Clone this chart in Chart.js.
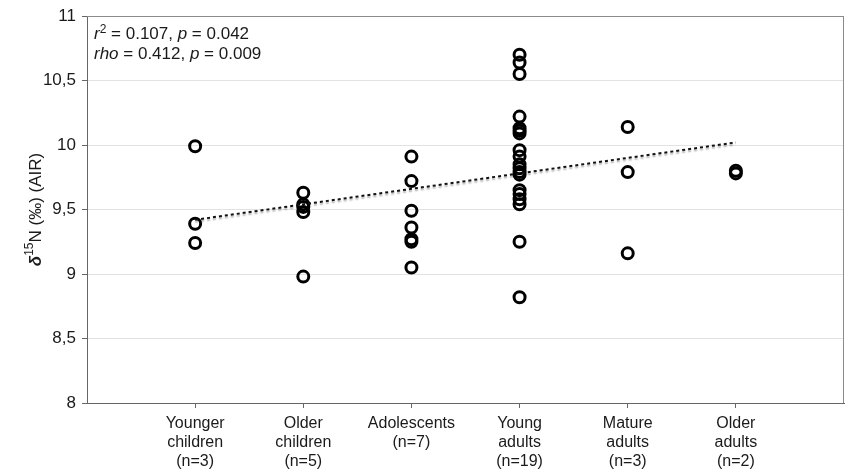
<!DOCTYPE html>
<html>
<head>
<meta charset="utf-8">
<script src="https://cdn.jsdelivr.net/npm/chart.js@4.4.1/dist/chart.umd.min.js"></script>
<style>
  html, body { margin: 0; padding: 0; background: #fff; }
  #wrap { width: 847px; height: 473px; position: relative; }
</style>
</head>
<body>
<div id="wrap"><canvas id="c" width="847" height="473"></canvas></div>
<script>
// Age groups shown along the x axis (multi-line labels)
const categories = [
  ['Younger', 'children', '(n=3)'],
  ['Older', 'children', '(n=5)'],
  ['Adolescents', '(n=7)'],
  ['Young', 'adults', '(n=19)'],
  ['Mature', 'adults', '(n=3)'],
  ['Older', 'adults', '(n=2)']
];

// δ15N values per individual, by age group
const youngerChildren = [9.99, 9.39, 9.24];
const olderChildren = [9.63, 9.54, 9.52, 9.48, 8.98];
const adolescents = [9.91, 9.72, 9.49, 9.36, 9.27, 9.25, 9.05];
const youngAdults = [10.70, 10.64, 10.55, 10.22, 10.13, 10.11, 10.09, 9.96, 9.91, 9.85,
                     9.82, 9.79, 9.77, 9.65, 9.62, 9.58, 9.54, 9.25, 8.82];
const matureAdults = [10.14, 9.79, 9.16];
const olderAdults = [9.80, 9.78];

// Linear trend endpoints (first and last group)
const trendX = [1, 6];
const trendY = [9.42, 10.02];

// y-axis ticks
const yTicks = [8, 8.5, 9, 9.5, 10, 10.5, 11];

const groups = [youngerChildren, olderChildren, adolescents, youngAdults, matureAdults, olderAdults];
const scatterPoints = [];
groups.forEach((vals, i) => vals.forEach(v => scatterPoints.push({ x: i + 1, y: v })));

const FONT = '"Liberation Sans", Arial, Helvetica, sans-serif';
const TEXT = '#1a1a1a';

// Draws a run of text segments with italic / bold / superscript styling
function drawRich(ctx, segs, x, y, size) {
  let cx = x;
  segs.forEach(s => {
    const sz = s.sup ? Math.round(size * 0.68) : size;
    ctx.font = (s.i ? 'italic ' : '') + (s.b ? 'bold ' : '') + sz + 'px ' + FONT;
    ctx.fillText(s.t, cx, s.sup ? y - size * 0.36 : y);
    cx += ctx.measureText(s.t).width;
  });
  return cx - x;
}
function measureRich(ctx, segs, size) {
  let w = 0;
  segs.forEach(s => {
    const sz = s.sup ? Math.round(size * 0.68) : size;
    ctx.font = (s.i ? 'italic ' : '') + (s.b ? 'bold ' : '') + sz + 'px ' + FONT;
    w += ctx.measureText(s.t).width;
  });
  return w;
}

const decorPlugin = {
  id: 'decor',
  beforeDatasetsDraw(chart) {
    const { ctx, chartArea: a } = chart;
    ctx.save();
    ctx.strokeStyle = '#8a8a8a';
    ctx.lineWidth = 1;
    ctx.beginPath();
    ctx.moveTo(a.left, a.top + 0.5);
    ctx.lineTo(a.right - 0.5, a.top + 0.5);
    ctx.lineTo(a.right - 0.5, a.bottom);
    ctx.stroke();
    ctx.restore();
  },
  beforeDatasetDraw(chart, args) {
    if (args.index === 0) {
      const ctx = chart.ctx;
      ctx.save();
      ctx.shadowColor = 'rgba(0,0,0,0.3)';
      ctx.shadowOffsetY = 2;
      ctx.shadowBlur = 1.5;
    }
  },
  afterDatasetDraw(chart, args) {
    if (args.index === 0) chart.ctx.restore();
  },
  afterDraw(chart) {
    const { ctx, chartArea: a } = chart;
    ctx.save();
    ctx.fillStyle = TEXT;
    ctx.textBaseline = 'alphabetic';
    ctx.textAlign = 'left';
    const sz = 17;
    drawRich(ctx, [
      { t: 'r', i: true }, { t: '2', sup: true }, { t: ' = 0.107, ' },
      { t: 'p', i: true }, { t: ' = 0.042' }
    ], a.left + 7, a.top + 23, sz);
    drawRich(ctx, [
      { t: 'rho', i: true }, { t: ' = 0.412, ' },
      { t: 'p', i: true }, { t: ' = 0.009' }
    ], a.left + 7, a.top + 43, sz);

    // rotated y-axis title: δ15N (‰) (AIR)
    const title = [
      { t: 'δ', i: true, b: true }, { t: '15', sup: true }, { t: 'N (‰) (AIR)' }
    ];
    const ts = 17;
    const w = measureRich(ctx, title, ts);
    ctx.translate(36, (a.top + a.bottom) / 2);
    ctx.rotate(-Math.PI / 2);
    ctx.textBaseline = 'middle';
    drawRich(ctx, title, -w / 2, 0, ts);
    ctx.restore();
  }
};

new Chart(document.getElementById('c'), {
  type: 'scatter',
  data: {
    datasets: [
      {
        type: 'line',
        data: trendX.map((x, i) => ({ x, y: trendY[i] })),
        borderColor: '#111',
        borderWidth: 2,
        borderDash: [3, 3],
        pointRadius: 0,
        fill: false,
        order: 0
      },
      {
        data: scatterPoints,
        pointStyle: 'circle',
        pointRadius: 5.5,
        pointBorderWidth: 3,
        borderColor: '#000',
        backgroundColor: 'rgba(0,0,0,0)',
        pointBackgroundColor: 'rgba(0,0,0,0)',
        order: 1
      }
    ]
  },
  options: {
    responsive: false,
    animation: false,
    devicePixelRatio: 1,
    layout: { autoPadding: false, padding: { left: 0, right: 3, top: 16, bottom: 0 } },
    plugins: { legend: { display: false }, tooltip: { enabled: false } },
    scales: {
      x: {
        type: 'linear',
        min: 0,
        max: 7,
        afterBuildTicks(scale) {
          scale.ticks = [1, 2, 3, 4, 5, 6].map(v => ({ value: v }));
        },
        afterFit(scale) {
          scale.height = 70;
          scale.paddingLeft = 0;
          scale.paddingRight = 0;
        },
        grid: { drawOnChartArea: false, drawTicks: true, tickLength: 5, tickColor: '#666' },
        border: { display: true, color: '#666', width: 1 },
        ticks: {
          autoSkip: false,
          maxRotation: 0,
          padding: 6,
          color: TEXT,
          font: { family: FONT, size: 16, lineHeight: 1.2 },
          callback: v => categories[v - 1] || ''
        }
      },
      y: {
        min: 8,
        max: 11,
        afterBuildTicks(scale) {
          scale.ticks = yTicks.map(v => ({ value: v }));
        },
        afterFit(scale) {
          scale.width = 87;
          scale.paddingTop = 0;
          scale.paddingBottom = 0;
        },
        grid: {
          color: c => (c.tick && c.tick.value === 11 ? '#8a8a8a' : '#e2e2e2'),
          lineWidth: 1,
          drawTicks: true,
          tickLength: 5,
          tickColor: '#666'
        },
        border: { display: true, color: '#666', width: 1 },
        ticks: {
          padding: 6,
          color: TEXT,
          font: { family: FONT, size: 17 },
          callback: v => String(v).replace('.', ',')
        }
      }
    }
  },
  plugins: [decorPlugin]
});
</script>
</body>
</html>
